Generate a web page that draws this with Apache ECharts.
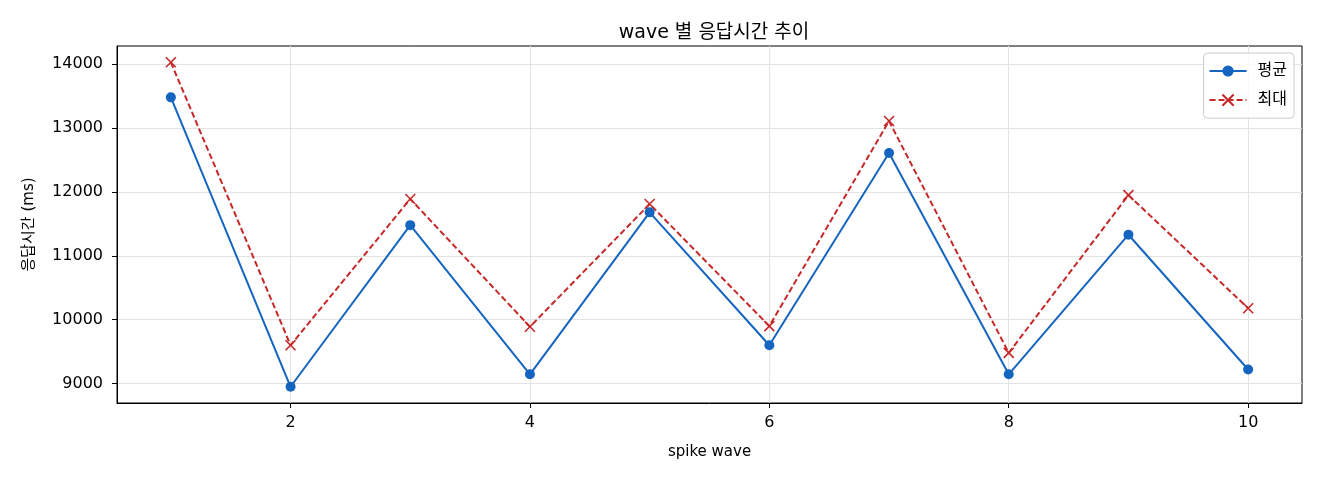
<!DOCTYPE html>
<html>
<head>
<meta charset="utf-8">
<script src="https://cdn.jsdelivr.net/npm/echarts@6/dist/echarts.min.js"></script>
<style>
  html, body { margin: 0; padding: 0; background: #fff; }
  #chart { width: 1320px; height: 480px; }
</style>
</head>
<body>
<div id="chart"></div>
<script>
// wave 번호
var waves = [1, 2, 3, 4, 5, 6, 7, 8, 9, 10];
// 평균 응답시간 (ms)
var avgMs = [13480, 8950, 11480, 9145, 11680, 9600, 12610, 9145, 11330, 9220];
// 최대 응답시간 (ms)
var maxMs = [14030, 9600, 11890, 9890, 11810, 9900, 13110, 9480, 11950, 10180];
var xTicks = [2, 4, 6, 8, 10];
var yTicks = [9000, 10000, 11000, 12000, 13000, 14000];

var FONT = '"DejaVu Sans", "Noto Sans CJK KR", sans-serif';

function pairs(xs, ys) {
  return xs.map(function (x, i) { return [x, ys[i]]; });
}

var chart = echarts.init(document.getElementById('chart'), null, { renderer: 'canvas' });
chart.setOption({
  animation: false,
  backgroundColor: '#fff',
  textStyle: { fontFamily: FONT },
  title: {
    text: 'wave 별 응답시간 추이',
    left: 709, top: 19, textAlign: 'center',
    textStyle: { fontFamily: FONT, fontSize: 19, fontWeight: 'normal', color: '#000' }
  },
  grid: {
    left: 117, right: 18, top: 46, bottom: 77,
    show: true, borderColor: '#000', borderWidth: 1, backgroundColor: 'transparent'
  },
  legend: {
    orient: 'vertical',
    right: 26, top: 53,
    itemWidth: 37, itemHeight: 14, itemGap: 13,
    padding: [10, 7, 10, 5],
    borderColor: '#cccccc', borderWidth: 1, borderRadius: 4,
    backgroundColor: 'rgba(255,255,255,0.8)',
    textStyle: { fontFamily: FONT, fontSize: 16, color: '#000', padding: [0, 0, 0, 6] },
    data: ['평균', '최대']
  },
  xAxis: {
    type: 'value', min: 0.55, max: 10.45,
    name: 'spike wave', nameLocation: 'middle', nameGap: 42,
    nameTextStyle: { fontFamily: FONT, fontSize: 15, color: '#000' },
    axisLine: { show: true, onZero: false, lineStyle: { color: '#000', width: 1 } },
    axisTick: { show: true, length: 5, customValues: xTicks, lineStyle: { color: '#000' } },
    axisLabel: { customValues: xTicks, margin: 12, fontFamily: FONT, fontSize: 16, color: '#000' },
    splitLine: { show: true, lineStyle: { color: '#e3e3e3', width: 1 } }
  },
  yAxis: {
    type: 'value', min: 8696, max: 14284,
    name: '응답시간 (ms)', nameLocation: 'middle', nameGap: 80,
    nameTextStyle: { fontFamily: FONT, fontSize: 15, color: '#000' },
    axisLine: { show: true, onZero: false, lineStyle: { color: '#000', width: 1 } },
    axisTick: { show: true, length: 5, customValues: yTicks, lineStyle: { color: '#000' } },
    axisLabel: {
      customValues: yTicks, margin: 14, fontFamily: FONT, fontSize: 16, color: '#000',
      formatter: function (v) { return String(v); }
    },
    splitLine: { show: true, lineStyle: { color: '#e3e3e3', width: 1 } }
  },
  series: [
    {
      name: '평균', type: 'line',
      data: pairs(waves, avgMs),
      symbol: 'circle', symbolSize: 10,
      itemStyle: { color: '#1565c0' },
      lineStyle: { color: '#1565c0', width: 2 },
      z: 3
    },
    {
      name: '최대', type: 'line',
      data: pairs(waves, maxMs),
      symbol: 'path://M0,0L10,10M10,0L0,10', symbolSize: 10,
      itemStyle: { color: 'none', borderColor: '#c62828', borderWidth: 1.6 },
      lineStyle: { color: '#c62828', width: 2, type: [6, 3] },
      z: 2
    }
  ]
});
</script>
</body>
</html>
